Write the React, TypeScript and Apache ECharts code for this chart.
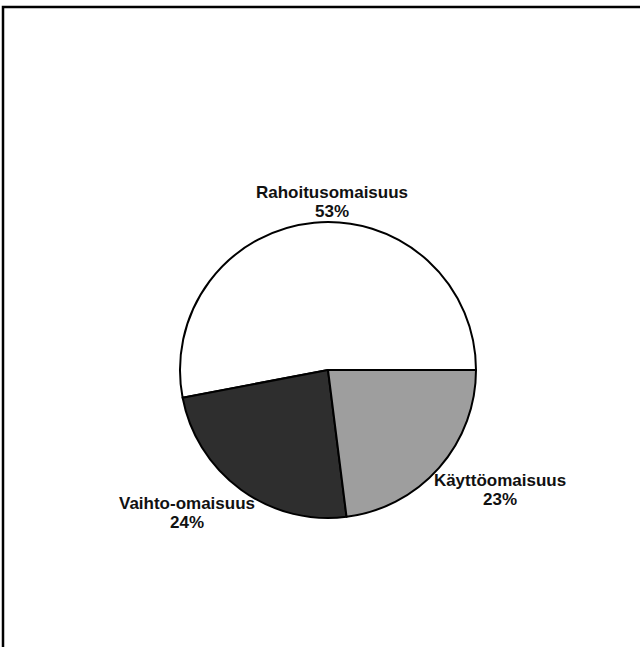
import React, { useEffect, useRef } from "react";
import * as echarts from "echarts";

const categories = ["Rahoitusomaisuus", "Vaihto-omaisuus", "Käyttöomaisuus"];
const values = [53, 24, 23];
const labelSpots = [
  [332, 202],
  [187, 513],
  [500, 490],
];
const sliceColors = ["#ffffff", "#2e2e2e", "#9e9e9e"];

export default function App() {
  const ref = useRef<HTMLDivElement>(null);
  useEffect(() => {
    if (!ref.current) return;
    const chart = echarts.init(ref.current, undefined, { renderer: "svg" });
    chart.setOption({
      animation: false,
      backgroundColor: "#ffffff",
      graphic: [
        {
          type: "rect",
          shape: { x: 3, y: 7, width: 700, height: 700 },
          style: { fill: "none", stroke: "#000", lineWidth: 2.5 },
          silent: true,
        },
      ],
      series: [
        {
          type: "pie",
          center: [328, 370],
          radius: 148,
          startAngle: 0,
          clockwise: false,
          avoidLabelOverlap: false,
          data: categories.map((name, i) => ({
            name,
            value: values[i],
            itemStyle: {
              borderColor: "#000",
              borderWidth: 2,
              color: sliceColors[i],
            },
          })),
          label: {
            show: true,
            position: "outside",
            formatter: (p: any) => `${p.name}\n${p.value}%`,
            fontFamily: "Liberation Sans, Arial, sans-serif",
            fontSize: 17,
            fontWeight: "bold",
            lineHeight: 19,
            color: "#111",
            align: "center",
          },
          labelLine: { show: false },
          labelLayout: (p: any) => ({
            x: labelSpots[p.dataIndex][0],
            y: labelSpots[p.dataIndex][1],
            align: "center",
            verticalAlign: "middle",
          }),
          emphasis: { disabled: true },
        },
      ],
    });
    return () => chart.dispose();
  }, []);
  return (
    <div
      ref={ref}
      style={{ position: "fixed", left: 0, top: 0, width: 640, height: 647 }}
    />
  );
}
